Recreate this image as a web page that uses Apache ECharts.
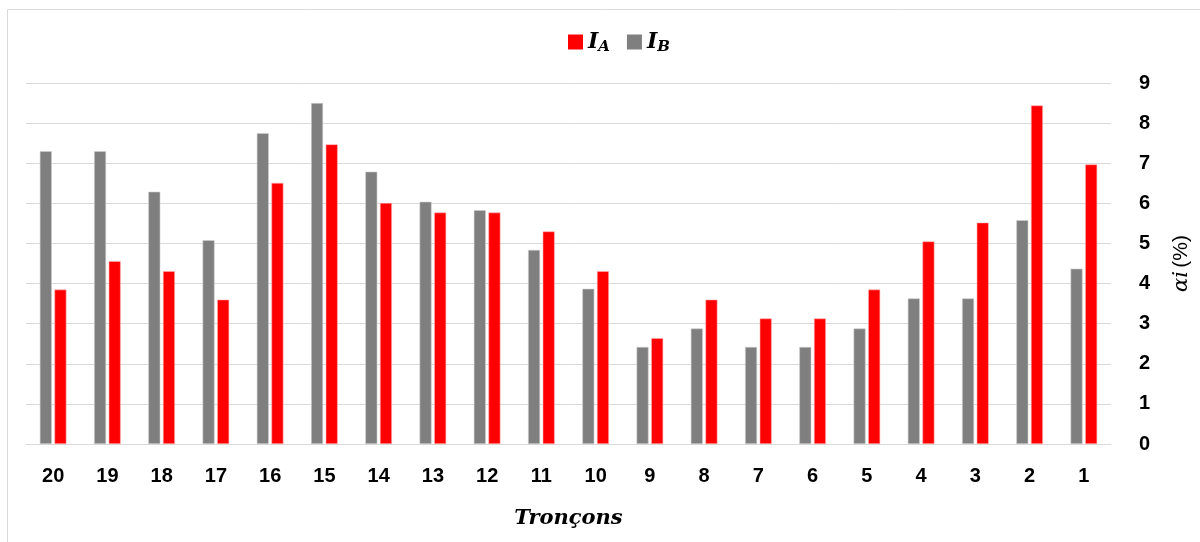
<!DOCTYPE html>
<html>
<head>
<meta charset="utf-8">
<script src="https://cdn.jsdelivr.net/npm/echarts@6/dist/echarts.min.js"></script>
<style>
  html, body { margin: 0; padding: 0; background: #fff; }
  #main { width: 1200px; height: 542px; }
</style>
</head>
<body>
<div id="main"></div>
<script>
// Tronçons, de 20 à 1
var troncons = ['20','19','18','17','16','15','14','13','12','11','10','9','8','7','6','5','4','3','2','1'];
var valeursIB = [7.3, 7.3, 6.29, 5.08, 7.75, 8.5, 6.79, 6.04, 5.83, 4.84, 3.87, 2.42, 2.88, 2.42, 2.42, 2.88, 3.63, 3.63, 5.58, 4.37];
var valeursIA = [3.85, 4.56, 4.31, 3.6, 6.51, 7.47, 6.01, 5.77, 5.77, 5.3, 4.31, 2.64, 3.6, 3.13, 3.13, 3.85, 5.05, 5.52, 8.44, 6.97];

var myChart = echarts.init(document.getElementById('main'));
var option = {
    animation: false,
    color: ['#7f7f7f', '#ff0000'],
    graphic: [{
        type: 'rect',
        shape: { x: 7.5, y: 9.5, width: 1300, height: 600 },
        style: { fill: 'none', stroke: '#d9d9d9', lineWidth: 1 },
        silent: true
    }],
    legend: {
        data: ['IA', 'IB'],
        top: 26,
        left: 563,
        itemWidth: 15,
        itemHeight: 15,
        itemGap: 17,
        icon: 'rect',
        itemStyle: { borderWidth: 0 },
        formatter: function (name) {
            return '{i|I}{s|' + name.charAt(1) + '}';
        },
        textStyle: {
            rich: {
                i: { fontFamily: 'DejaVu Serif', fontStyle: 'italic', fontWeight: 'bold', fontSize: 22, color: '#000' },
                s: { fontFamily: 'DejaVu Serif', fontStyle: 'italic', fontWeight: 'bold', fontSize: 15, color: '#000', padding: [10, 0, 0, 0] }
            }
        }
    },
    grid: {
        left: 26,
        right: 87,
        top: 83,
        bottom: 98
    },
    xAxis: {
        type: 'category',
        data: troncons,
        name: 'Tronçons',
        nameLocation: 'middle',
        nameGap: 64,
        nameTextStyle: {
            fontFamily: 'DejaVu Serif',
            fontStyle: 'italic',
            fontWeight: 'bold',
            fontSize: 21,
            color: '#000'
        },
        axisLine: { lineStyle: { color: '#d9d9d9' } },
        axisTick: { show: false },
        axisLabel: {
            margin: 22,
            fontFamily: 'Liberation Sans',
            fontWeight: 'bold',
            fontSize: 20,
            color: '#000'
        }
    },
    yAxis: {
        type: 'value',
        position: 'right',
        min: 0,
        max: 9,
        interval: 1,
        name: '{a|αi} {b|(%)}',
        nameLocation: 'middle',
        nameRotate: 90,
        nameGap: 60,
        nameTextStyle: {
            rich: {
                a: { fontFamily: 'DejaVu Serif', fontStyle: 'italic', fontSize: 21, color: '#000' },
                b: { fontFamily: 'Liberation Sans', fontSize: 21, color: '#000' }
            }
        },
        axisLine: { show: false },
        axisTick: { show: false },
        axisLabel: {
            margin: 28,
            fontFamily: 'Liberation Sans',
            fontWeight: 'bold',
            fontSize: 20,
            color: '#000'
        },
        splitLine: { lineStyle: { color: '#d9d9d9', width: 1 } }
    },
    series: [
        {
            name: 'IB',
            type: 'bar',
            data: valeursIB,
            barWidth: 12,
            barGap: '22%',
            itemStyle: { color: '#7f7f7f', borderColor: '#cfcfcf', borderWidth: 0.6 }
        },
        {
            name: 'IA',
            type: 'bar',
            data: valeursIA,
            barWidth: 12,
            itemStyle: { color: '#ff0000', borderColor: '#ffb0b0', borderWidth: 0.6 }
        }
    ]
};
myChart.setOption(option);
</script>
</body>
</html>
